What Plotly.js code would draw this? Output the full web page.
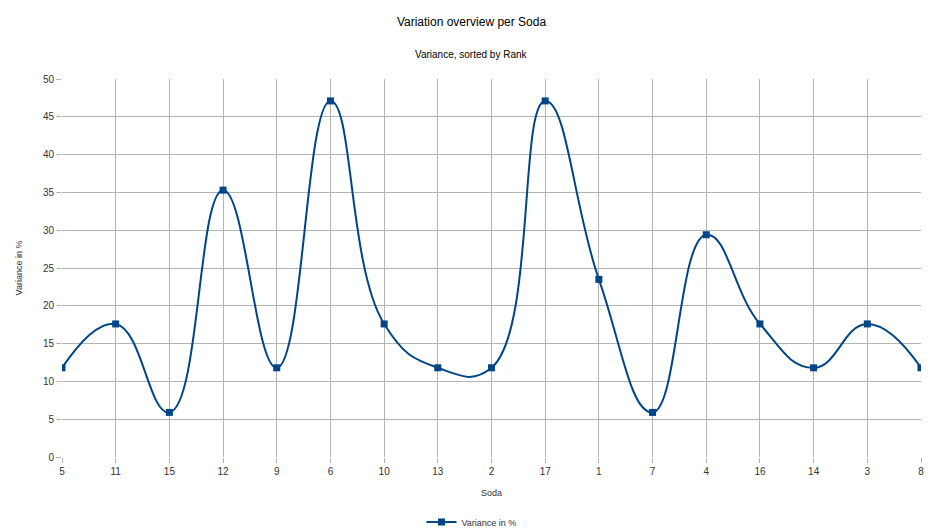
<!DOCTYPE html>
<html>
<head>
<meta charset="utf-8">
<script src="https://cdn.plot.ly/plotly-3.0.1.min.js"></script>
<style>
  html, body { margin: 0; padding: 0; background: #fff; }
  #chart { width: 943px; height: 530px; }
</style>
</head>
<body>
<div id="chart"></div>
<script>
// soda ids, in rank order
const sodas = ['5', '11', '15', '12', '9', '6', '10', '13', '2', '17', '1', '7', '4', '16', '14', '3', '8'];
// variance in % per soda
const variance = [11.8, 17.6, 5.9, 35.3, 11.8, 47.1, 17.6, 11.8, 11.8, 47.1, 23.5, 5.9, 29.4, 17.6, 11.8, 17.6, 11.8];
const yTicks = [0, 5, 10, 15, 20, 25, 30, 35, 40, 45, 50];

const blue = '#004586';
const grid = '#b3b3b3';
const textColor = '#333333';

const data = [
  {
    x: sodas,
    y: variance,
    name: 'Variance in %',
    type: 'scatter',
    mode: 'lines+markers',
    line: { color: blue, width: 2, shape: 'spline', smoothing: 1.3 },
    marker: { color: blue, symbol: 'square', size: 7 },
  },
];

const layout = {
  width: 943,
  height: 530,
  margin: { l: 62, r: 22, t: 79, b: 73, autoexpand: false },
  paper_bgcolor: '#fff',
  plot_bgcolor: '#fff',
  font: { family: 'Liberation Sans, Arial, sans-serif', size: 10, color: textColor },
  title: {
    text: 'Variation overview per Soda',
    font: { size: 12, color: '#000' },
    xref: 'container',
    x: 0.5,
    xanchor: 'center',
    y: 1 - 22 / 530,
    yanchor: 'middle',
  },
  annotations: [
    {
      text: 'Variance, sorted by Rank',
      xref: 'paper',
      yref: 'paper',
      x: (471 - 62) / 859,
      y: 1 + 25 / 378,
      xanchor: 'center',
      yanchor: 'middle',
      showarrow: false,
      font: { size: 10, color: '#000' },
    },
  ],
  xaxis: {
    type: 'category',
    range: [0, sodas.length - 1],
    automargin: false,
    showgrid: true,
    gridcolor: grid,
    gridwidth: 1,
    zeroline: false,
    showline: false,
    ticks: 'outside',
    ticklen: 5,
    tickcolor: grid,
    tickfont: { size: 10, color: textColor },
    title: { text: 'Soda', font: { size: 9, color: textColor }, standoff: 13 },
  },
  yaxis: {
    range: [0, 50],
    tickvals: yTicks,
    automargin: false,
    showgrid: true,
    gridcolor: grid,
    gridwidth: 1,
    zeroline: false,
    showline: false,
    ticks: 'outside',
    ticklen: 5,
    tickcolor: grid,
    tickfont: { size: 10, color: textColor },
    title: { text: 'Variance in %', font: { size: 9, color: textColor }, standoff: 18 },
  },
  showlegend: true,
  legend: {
    orientation: 'h',
    xref: 'container',
    yref: 'container',
    x: 0.5,
    xanchor: 'center',
    y: 1 - 522 / 530,
    yanchor: 'middle',
    font: { size: 9, color: textColor },
  },
};

Plotly.newPlot('chart', data, layout, { displayModeBar: false, staticPlot: true });
</script>
</body>
</html>
